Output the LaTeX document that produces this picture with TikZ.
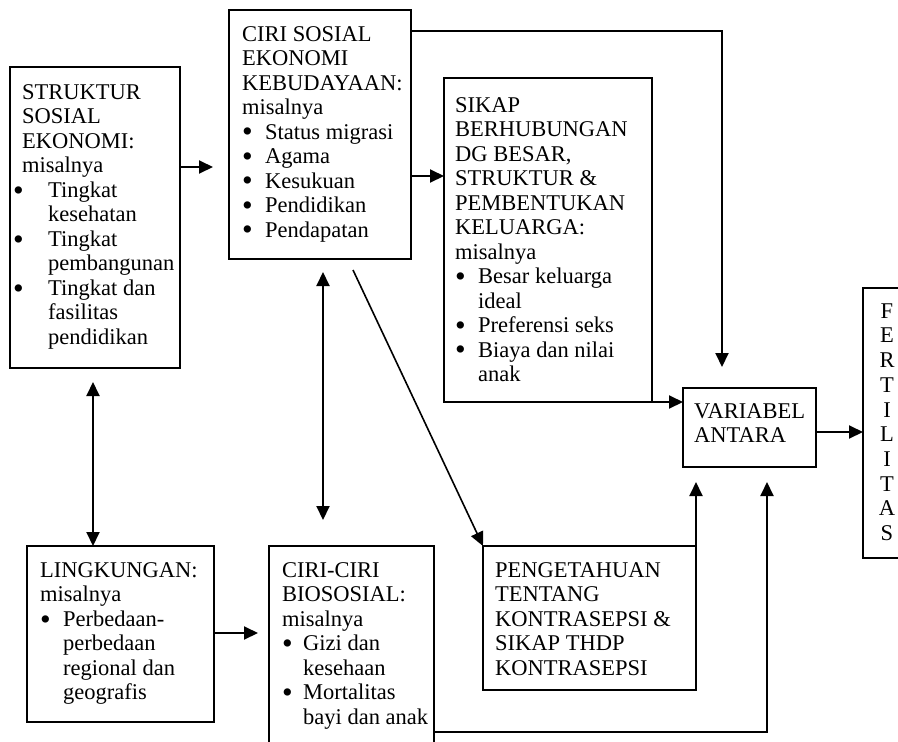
\documentclass[tikz,border=0pt]{standalone}
\usepackage{fontspec}
\usepackage{graphicx}
\setmainfont{Liberation Serif}
\usetikzlibrary{arrows.meta}
% bullet item: an enlarged bullet in a fixed-width slot, then the item text
\newcommand{\bigbul}{\smash{\raisebox{-0.12em}{\scalebox{1.35}{\textbullet}}}}
\newcommand{\bitem}[2]{\makebox[#1][l]{\bigbul}#2}
\begin{document}
\begin{tikzpicture}[x=1pt,y=-1pt,
  box/.style={draw, line width=2pt, rectangle, inner sep=0pt, outer sep=0pt, anchor=north west},
  txt/.style={anchor=north west, inner sep=0pt, align=left, font=\fontsize{22.5}{24.5}\selectfont},
  arr/.style={line width=2pt, -{Triangle[length=14pt,width=13pt]}},
  darr/.style={line width=2pt, {Triangle[length=14pt,width=13pt]}-{Triangle[length=14pt,width=13pt]}}]
\useasboundingbox (0,0) rectangle (898,742);

% boxes
\node[box, minimum width=170pt, minimum height=301pt] (A) at (10,67) {};
\node[box, minimum width=182pt, minimum height=249pt] (B) at (229,10) {};
\node[box, minimum width=208pt, minimum height=324pt] (C) at (444,78) {};
\node[box, minimum width=133pt, minimum height=79pt]  (D) at (683,388) {};
\node[box, minimum width=50pt,  minimum height=270pt] (E) at (863,288) {};
\node[box, minimum width=187pt, minimum height=176pt] (F) at (27,546) {};
\node[box, minimum width=165pt, minimum height=220pt] (G) at (269,546) {};
\node[box, minimum width=213pt, minimum height=144pt] (H) at (483,546) {};

% texts
\node[txt] (tA) at (13,84.3) {\hspace*{9pt}STRUKTUR\\ \hspace*{9pt}SOSIAL\\ \hspace*{9pt}EKONOMI:\\ \hspace*{9pt}misalnya\\
  \bitem{35pt}{Tingkat}\\ \hspace*{35pt}kesehatan\\ \bitem{35pt}{Tingkat}\\ \hspace*{35pt}pembangunan\\
  \bitem{35pt}{Tingkat dan}\\ \hspace*{35pt}fasilitas\\ \hspace*{35pt}pendidikan};
\node[txt] (tB) at (242,26) {CIRI SOSIAL\\ EKONOMI\\ KEBUDAYAAN:\\ misalnya\\
  \bitem{23pt}{Status migrasi}\\ \bitem{23pt}{Agama}\\ \bitem{23pt}{Kesukuan}\\ \bitem{23pt}{Pendidikan}\\ \bitem{23pt}{Pendapatan}};
\node[txt] (tC) at (455,97) {SIKAP\\ BERHUBUNGAN\\ DG BESAR,\\ STRUKTUR \&\\ PEMBENTUKAN\\ KELUARGA:\\ misalnya\\
  \bitem{23pt}{Besar keluarga}\\ \hspace*{23pt}ideal\\ \bitem{23pt}{Preferensi seks}\\ \bitem{23pt}{Biaya dan nilai}\\ \hspace*{23pt}anak};
\node[txt] (tD) at (694,403.3) {VARIABEL\\ ANTARA};
\node[txt, anchor=north, align=center, font=\fontsize{22.5}{24.7}\selectfont] (tE) at (887,303.3)
  {F\\ E\\ R\\ T\\ I\\ L\\ I\\ T\\ A\\ S};
\node[txt] (tF) at (40,562.3) {LINGKUNGAN:\\ misalnya\\ \bitem{23pt}{Perbedaan-}\\ \hspace*{23pt}perbedaan\\
  \hspace*{23pt}regional dan\\ \hspace*{23pt}geografis};
\node[txt] (tG) at (282,562.3) {CIRI-CIRI\\ BIOSOSIAL:\\ misalnya\\ \bitem{21pt}{Gizi dan}\\ \hspace*{21pt}kesehaan\\
  \bitem{21pt}{Mortalitas}\\ \hspace*{21pt}bayi dan anak};
\node[txt] (tH) at (495,562.3) {PENGETAHUAN\\ TENTANG\\ KONTRASEPSI \&\\ SIKAP THDP\\ KONTRASEPSI};

% connectors
\draw[arr, shorten >=16pt] (A.east |- 0,167) -- (B.west |- 0,167);
\draw[arr] (B.east |- 0,176) -- (C.west |- 0,176);
\draw[arr, shorten >=21pt] (B.east |- 0,31) -| ([xshift=-27.5pt]D.north);
\draw[arr] (C.south east) -- (C.south east -| D.west);
\draw[arr] (D.east |- 0,432) -- (E.west |- 0,432);
\draw[arr, shorten >=15pt] (H.north east) -- (H.north east |- D.south);
\draw[arr, shorten >=15pt] (G.east |- 0,732) -| ([xshift=17.5pt]D.south);
\draw[arr, line width=1.6pt] ([xshift=33pt,yshift=-11pt]B.south) -- (H.north west);
\draw[darr, shorten <=13pt, shorten >=26pt] ([xshift=3pt]B.south) -- ([xshift=3pt]B.south |- G.north);
\draw[darr, shorten <=14pt] ([xshift=-2pt]A.south) -- ([xshift=-2pt]A.south |- F.north);
\draw[arr, shorten >=11pt] (F.east |- 0,633) -- (G.west |- 0,633);
\end{tikzpicture}
\end{document}
